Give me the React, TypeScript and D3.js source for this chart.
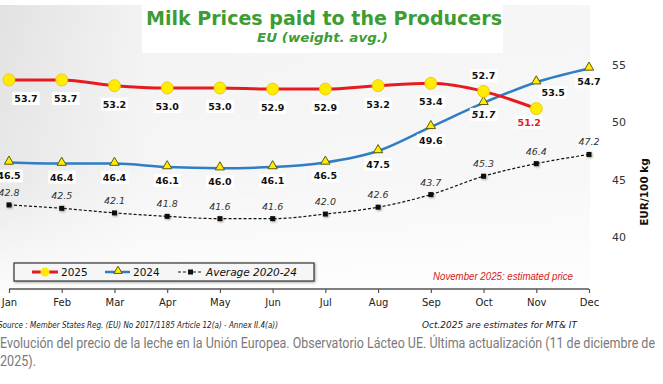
import React, { useRef, useEffect } from 'react';
import * as d3 from 'd3';

const months = ['Jan', 'Feb', 'Mar', 'Apr', 'May', 'Jun', 'Jul', 'Aug', 'Sep', 'Oct', 'Nov', 'Dec'];
const values2025 = [53.7, 53.7, 53.2, 53.0, 53.0, 52.9, 52.9, 53.2, 53.4, 52.7, 51.2];
const values2024 = [46.5, 46.4, 46.4, 46.1, 46.0, 46.1, 46.5, 47.5, 49.6, 51.7, 53.5, 54.7];
const valuesAvg = [42.8, 42.5, 42.1, 41.8, 41.6, 41.6, 42.0, 42.6, 43.7, 45.3, 46.4, 47.2];
const yTicks = [40, 45, 50, 55];

const GREEN = '#3d9c33';
const RED = '#e51b20';
const BLUE = '#2f7dc2';
const YELLOW = '#ffec00';
const VERDANA = '"DejaVu Sans", Verdana, sans-serif';

const App = () => {
  const svgRef = useRef<SVGSVGElement | null>(null);

  useEffect(() => {
    if (!svgRef.current) return;
    const svg = d3.select(svgRef.current);
    svg.selectAll('*').remove();

    const x = d3.scalePoint<string>().domain(months).range([9, 589]);
    const y = d3.scaleLinear().domain([40, 55]).range([237, 65]);

    const defs = svg.append('defs');
    const bg = defs.append('linearGradient').attr('id', 'bg').attr('x1', 0).attr('x2', 1).attr('y1', 0).attr('y2', 0);
    bg.append('stop').attr('offset', '0%').attr('stop-color', '#e2e2e2');
    bg.append('stop').attr('offset', '25%').attr('stop-color', '#f3f3f3');
    bg.append('stop').attr('offset', '100%').attr('stop-color', '#f6f6f6');
    const fade = defs.append('linearGradient').attr('id', 'fade').attr('x1', 0).attr('x2', 0).attr('y1', 0).attr('y2', 1);
    fade.append('stop').attr('offset', '0%').attr('stop-color', '#fff').attr('stop-opacity', 0);
    fade.append('stop').attr('offset', '60%').attr('stop-color', '#fff').attr('stop-opacity', 0.2);
    fade.append('stop').attr('offset', '100%').attr('stop-color', '#fff').attr('stop-opacity', 0.9);
    const shadow = defs.append('filter').attr('id', 'sh').attr('x', '-50%').attr('y', '-50%').attr('width', '200%').attr('height', '200%');
    shadow.append('feDropShadow').attr('dx', 1).attr('dy', 1).attr('stdDeviation', 0.8).attr('flood-color', '#000').attr('flood-opacity', 0.35);

    // plot background
    svg.append('rect').attr('x', 0).attr('y', 5).attr('width', 590).attr('height', 287).attr('fill', 'url(#bg)');
    svg.append('rect').attr('x', 0).attr('y', 5).attr('width', 590).attr('height', 287).attr('fill', 'url(#fade)');

    // title box
    svg.append('rect').attr('x', 142).attr('y', 5).attr('width', 361).attr('height', 48).attr('fill', '#fff');
    svg.append('text').attr('x', 146).attr('y', 25).attr('textLength', 356).attr('lengthAdjust', 'spacingAndGlyphs')
      .attr('font-family', VERDANA).attr('font-weight', 'bold').attr('font-size', 19).attr('fill', GREEN)
      .text('Milk Prices paid to the Producers');
    svg.append('text').attr('x', 257).attr('y', 42).attr('textLength', 131).attr('lengthAdjust', 'spacingAndGlyphs')
      .attr('font-family', VERDANA).attr('font-weight', 'bold').attr('font-style', 'italic').attr('font-size', 12.5).attr('fill', GREEN)
      .text('EU (weight. avg.)');

    // right y axis labels
    svg.append('g').selectAll('text').data(yTicks).enter().append('text')
      .attr('x', 612).attr('y', (d) => y(d) + 4)
      .attr('font-family', VERDANA).attr('font-size', 11).attr('fill', '#333')
      .text((d) => d);
    svg.append('text').attr('transform', 'translate(648,192) rotate(-90)').attr('text-anchor', 'middle')
      .attr('font-family', VERDANA).attr('font-weight', 'bold').attr('font-size', 10.5).attr('fill', '#111')
      .text('EUR/100 kg');

    // x axis
    const xAxis = d3.axisBottom(x).tickSize(4).tickPadding(6);
    const xg = svg.append('g').attr('transform', 'translate(0,289)').call(xAxis);
    xg.select('.domain').attr('stroke', '#555').attr('stroke-width', 1.5).attr('d', 'M9,0H589');
    xg.selectAll('.tick line').attr('stroke', '#555').attr('stroke-width', 1.2);
    xg.selectAll('.tick text').attr('font-family', VERDANA).attr('font-size', 10).attr('fill', '#222');

    const line = d3.line<number>()
      .x((_, i) => x(months[i]) as number)
      .y((d) => y(d))
      .curve(d3.curveMonotoneX);

    // average line
    svg.append('path').datum(valuesAvg).attr('d', line).attr('fill', 'none')
      .attr('stroke', '#111').attr('stroke-width', 1.2).attr('stroke-dasharray', '3,2');
    svg.append('g').selectAll('rect').data(valuesAvg).enter().append('rect')
      .attr('x', (_, i) => (x(months[i]) as number) - 2.5).attr('y', (d) => y(d) - 2.5)
      .attr('width', 5).attr('height', 5).attr('fill', '#111').attr('filter', 'url(#sh)');

    // 2024 line
    svg.append('path').datum(values2024).attr('d', line).attr('fill', 'none')
      .attr('stroke', BLUE).attr('stroke-width', 2.5);
    const tri = d3.symbol().type(d3.symbolTriangle).size(38);
    svg.append('g').selectAll('path').data(values2024).enter().append('path')
      .attr('d', tri).attr('transform', (d, i) => `translate(${x(months[i])},${y(d) - 1})`)
      .attr('fill', YELLOW).attr('stroke', '#5a5a10').attr('stroke-width', 1);

    // 2025 line
    svg.append('path').datum(values2025).attr('d', line).attr('fill', 'none')
      .attr('stroke', RED).attr('stroke-width', 3);
    svg.append('g').selectAll('circle').data(values2025).enter().append('circle')
      .attr('cx', (_, i) => x(months[i]) as number).attr('cy', (d) => y(d)).attr('r', 6)
      .attr('fill', YELLOW).attr('stroke', '#e5c400').attr('stroke-width', 0.8);

    // value labels
    const addLabel = (v: number, px: number, py: number, opts: { color?: string; italic?: boolean; bold?: boolean; box?: boolean }) => {
      const g = svg.append('g');
      const t = g.append('text').attr('x', px).attr('y', py).attr('text-anchor', 'middle')
        .attr('font-family', VERDANA).attr('font-size', 9.5)
        .attr('font-weight', opts.bold === false ? 'normal' : 'bold')
        .attr('font-style', opts.italic ? 'italic' : 'normal')
        .attr('fill', opts.color || '#111')
        .text(v.toFixed(1));
      if (opts.box) {
        const b = (t.node() as SVGTextElement).getBBox();
        g.insert('rect', 'text').attr('x', b.x - 2).attr('y', b.y - 1).attr('width', b.width + 4).attr('height', b.height + 2).attr('fill', '#fff');
      }
    };

    values2025.forEach((v, i) => {
      const px = x(months[i]) as number;
      const py = y(v);
      if (i === 9) addLabel(v, px, py - 12, { box: true });
      else if (i === 10) addLabel(v, px - 7, py + 17, { color: RED, box: true });
      else addLabel(v, px + (i === 0 ? 17 : i === 1 ? 4 : 0), py + 22, { box: true });
    });
    values2024.forEach((v, i) => {
      const px = x(months[i]) as number;
      const py = y(v);
      if (i === 10) addLabel(v, px + 17, py + 14, { box: true });
      else if (i === 9) addLabel(v, px, py + 15, { italic: true, box: true });
      else addLabel(v, px, py + 17, { box: true });
    });
    valuesAvg.forEach((v, i) => {
      const px = x(months[i]) as number;
      addLabel(v, px, y(v) - 9, { italic: true, bold: false, color: '#333' });
    });

    // legend
    const lg = svg.append('g');
    lg.append('rect').attr('x', 14).attr('y', 263).attr('width', 300).attr('height', 18)
      .attr('fill', '#f6f6f6').attr('stroke', '#333').attr('stroke-width', 1.2).attr('filter', 'url(#sh)');
    lg.append('line').attr('x1', 32).attr('x2', 58).attr('y1', 272).attr('y2', 272).attr('stroke', RED).attr('stroke-width', 3);
    lg.append('circle').attr('cx', 45).attr('cy', 272).attr('r', 4.5).attr('fill', YELLOW);
    lg.append('line').attr('x1', 105).attr('x2', 130).attr('y1', 272).attr('y2', 272).attr('stroke', BLUE).attr('stroke-width', 2.5);
    lg.append('path').attr('d', d3.symbol().type(d3.symbolTriangle).size(30)).attr('transform', 'translate(118,271)')
      .attr('fill', YELLOW).attr('stroke', '#5a5a10').attr('stroke-width', 1);
    lg.append('line').attr('x1', 178).attr('x2', 203).attr('y1', 272).attr('y2', 272).attr('stroke', '#111').attr('stroke-width', 1.2).attr('stroke-dasharray', '3,2');
    lg.append('rect').attr('x', 188).attr('y', 269.5).attr('width', 5).attr('height', 5).attr('fill', '#111');
    const legText = (tx: number, s: string, italic: boolean) =>
      lg.append('text').attr('x', tx).attr('y', 276).attr('font-family', VERDANA).attr('font-size', 10.5)
        .attr('font-style', italic ? 'italic' : 'normal').attr('fill', '#111').text(s);
    legText(61, '2025', false);
    legText(133, '2024', false);
    legText(206, 'Average 2020-24', true);

    svg.append('text').attr('x', 433).attr('y', 280).attr('textLength', 140).attr('lengthAdjust', 'spacingAndGlyphs')
      .attr('font-family', '"Liberation Sans", Arial, sans-serif').attr('font-style', 'italic').attr('font-size', 10).attr('fill', '#d42020')
      .text('November 2025: estimated price');

    // footer texts
    svg.append('text').attr('x', -2).attr('y', 328).attr('textLength', 280).attr('lengthAdjust', 'spacingAndGlyphs')
      .attr('font-family', VERDANA).attr('font-style', 'italic').attr('font-size', 9).attr('fill', '#222')
      .text('Source : Member States Reg. (EU) No 2017/1185 Article 12(a) - Annex II.4(a))');
    svg.append('text').attr('x', 422).attr('y', 328).attr('textLength', 155).attr('lengthAdjust', 'spacingAndGlyphs')
      .attr('font-family', VERDANA).attr('font-style', 'italic').attr('font-size', 9).attr('fill', '#222')
      .text('Oct.2025 are estimates for MT& IT');
    svg.append('text').attr('x', 0).attr('y', 348).attr('textLength', 655).attr('lengthAdjust', 'spacingAndGlyphs')
      .attr('font-family', 'Roboto, sans-serif').attr('font-size', 14).attr('fill', '#7a7a7a')
      .text('Evolución del precio de la leche en la Unión Europea. Observatorio Lácteo UE. Última actualización (11 de diciembre de');
    svg.append('text').attr('x', 0).attr('y', 366).attr('textLength', 36).attr('lengthAdjust', 'spacingAndGlyphs')
      .attr('font-family', 'Roboto, sans-serif').attr('font-size', 14).attr('fill', '#7a7a7a')
      .text('2025).');
  }, []);

  return (
    <svg ref={svgRef} width={663} height={384}
      style={{ position: 'absolute', left: 0, top: 0, background: '#fff' }} />
  );
};

export default App;
